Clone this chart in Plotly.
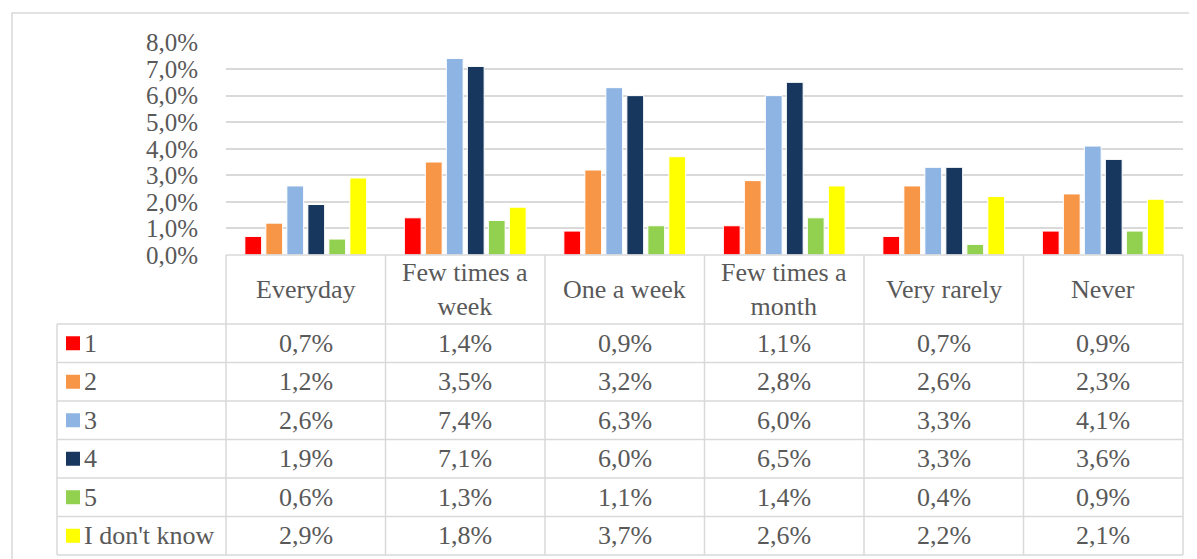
'''
    Grouped bar chart with an Excel-style data table below the bars.
'''

import plotly.graph_objects as go

categories = ['Everyday', 'Few times a week', 'One a week',
              'Few times a month', 'Very rarely', 'Never']
header_labels = ['Everyday', 'Few times a<br>week', 'One a week',
                 'Few times a<br>month', 'Very rarely', 'Never']

series_names = ['1', '2', '3', '4', '5', "I don't know"]
s1 = [0.7, 1.4, 0.9, 1.1, 0.7, 0.9]
s2 = [1.2, 3.5, 3.2, 2.8, 2.6, 2.3]
s3 = [2.6, 7.4, 6.3, 6.0, 3.3, 4.1]
s4 = [1.9, 7.1, 6.0, 6.5, 3.3, 3.6]
s5 = [0.6, 1.3, 1.1, 1.4, 0.4, 0.9]
s_dk = [2.9, 1.8, 3.7, 2.6, 2.2, 2.1]
series_values = [s1, s2, s3, s4, s5, s_dk]

colors = ['#FF0000', '#F79646', '#8DB4E2', '#17375E', '#92D050', '#FFFF00']

W, H = 1197, 559
OFF = 8  # page body margin
TEXT = '#595959'
GRID = '#D9D9D9'
FONT = 'Liberation Serif'
FS = 25
FS_TABLE = 26

# pixel layout (screen coordinates)
PLOT_L, PLOT_R = 226, 1183
PLOT_T, PLOT_B = 42.5, 255
TABLE_L = 57
HEADER_B = 324
ROW_H = 38.5


def px(x):
    return (x - OFF) / W


def py(y):
    return 1 - (y - OFF) / H


def fmt(v):
    return f'{v:.1f}%'.replace('.', ',')


fig = go.Figure()
for name, vals, col in zip(series_names, series_values, colors):
    fig.add_trace(go.Bar(
        x=categories, y=vals, name=name,
        marker_color=col,
        marker_line_color='white',
        marker_line_width=1,
        showlegend=False,
    ))

shapes = []
line = dict(color=GRID, width=1.5)

# outer frame
shapes.append(dict(type='rect', xref='paper', yref='paper',
                   x0=px(12), x1=px(1215), y0=py(13), y1=py(585),
                   line=dict(color=GRID, width=1.5)))

# table horizontal lines
shapes.append(dict(type='line', xref='paper', yref='paper',
                   x0=px(PLOT_L), x1=px(PLOT_R), y0=py(PLOT_B), y1=py(PLOT_B),
                   line=line))
n_rows = len(series_names)
for i in range(n_rows + 1):
    y = HEADER_B + i * ROW_H
    shapes.append(dict(type='line', xref='paper', yref='paper',
                       x0=px(TABLE_L), x1=px(PLOT_R), y0=py(y), y1=py(y),
                       line=line))
# table vertical lines
TABLE_B = HEADER_B + n_rows * ROW_H
shapes.append(dict(type='line', xref='paper', yref='paper',
                   x0=px(TABLE_L), x1=px(TABLE_L), y0=py(HEADER_B), y1=py(TABLE_B),
                   line=line))
col_w = (PLOT_R - PLOT_L) / len(categories)
for j in range(len(categories) + 1):
    x = PLOT_L + j * col_w
    shapes.append(dict(type='line', xref='paper', yref='paper',
                       x0=px(x), x1=px(x), y0=py(PLOT_B), y1=py(TABLE_B),
                       line=line))

annotations = []
font = dict(family=FONT, size=FS_TABLE, color=TEXT)

# header row
for cat, lab in zip(categories, header_labels):
    annotations.append(dict(x=cat, xref='x', y=py((PLOT_B + HEADER_B) / 2),
                            yref='paper', text=lab, showarrow=False,
                            font=font, xanchor='center', yanchor='middle'))

# data rows with legend keys
for i, (name, vals, col) in enumerate(zip(series_names, series_values, colors)):
    yc = HEADER_B + (i + 0.5) * ROW_H
    shapes.append(dict(type='rect', xref='paper', yref='paper',
                       x0=px(66), x1=px(80), y0=py(yc - 7), y1=py(yc + 7),
                       fillcolor=col, line=dict(width=0)))
    annotations.append(dict(x=px(82), xref='paper', y=py(yc), yref='paper',
                            text=name, showarrow=False, font=font,
                            xanchor='left', yanchor='middle'))
    for cat, v in zip(categories, vals):
        annotations.append(dict(x=cat, xref='x', y=py(yc), yref='paper',
                                text=fmt(v), showarrow=False, font=font,
                                xanchor='center', yanchor='middle'))

fig.update_layout(
    width=W, height=H,
    margin=dict(l=0, r=0, t=0, b=0),
    paper_bgcolor='white',
    plot_bgcolor='white',
    barmode='group',
    bargap=0.21,
    bargroupgap=0.2,
    separators=',.',
    font=dict(family=FONT, color=TEXT),
    xaxis=dict(domain=[px(PLOT_L), px(PLOT_R)], showticklabels=False,
               showgrid=False, zeroline=False, showline=False, ticks=''),
    yaxis=dict(domain=[py(PLOT_B), py(PLOT_T)], range=[0, 8], dtick=1,
               tickformat='.1f', ticksuffix='%', showgrid=True,
               gridcolor=GRID, gridwidth=1.5, zeroline=False, showline=False,
               tickfont=dict(family=FONT, size=FS, color=TEXT),
               ticks='outside', ticklen=22, tickcolor='rgba(0,0,0,0)',
               automargin=False),
    shapes=shapes,
    annotations=annotations,
)

fig.write_html('out.html')
